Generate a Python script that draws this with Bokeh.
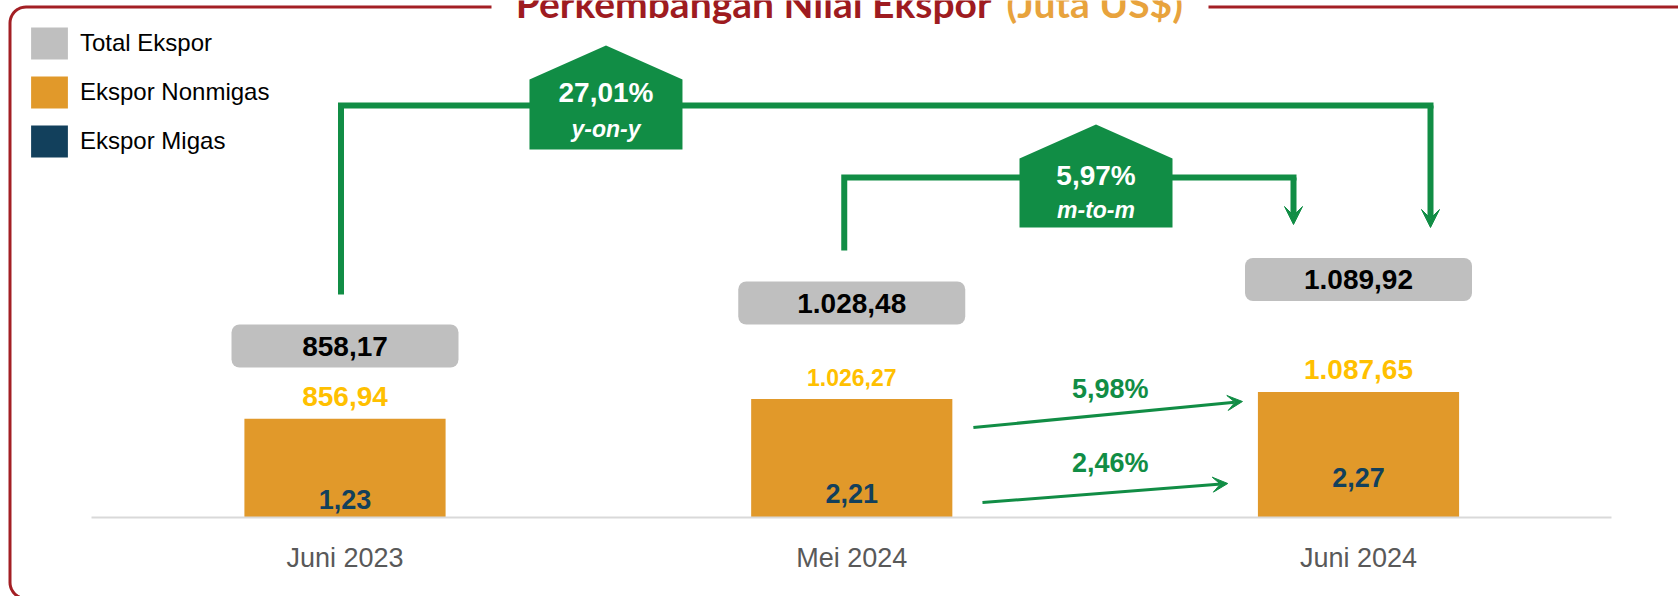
import numpy as np
from bokeh.plotting import figure
from bokeh.models import (Range1d, ColumnDataSource, FixedTicker, Arrow, VeeHead,
                          Legend, LegendItem)
from bokeh.core.properties import value
from bokeh.embed import file_html
from bokeh.resources import INLINE

# ---------------- data ----------------
categories = ["Juni 2023", "Mei 2024", "Juni 2024"]
total_ekspor = [858.17, 1028.48, 1089.92]
ekspor_nonmigas = [856.94, 1026.27, 1087.65]
ekspor_migas = [1.23, 2.21, 2.27]
growth_yoy = 27.01
growth_mtm = 5.97
growth_mtm_nonmigas = 5.98
growth_mtm_migas = 2.46
legend_labels = ["Total Ekspor", "Ekspor Nonmigas", "Ekspor Migas"]
title_main = "Perkembangan Nilai Ekspor"
title_unit = "(Juta US$)"
yoy_caption = "y-on-y"
mtm_caption = "m-to-m"

# ---------------- styling / layout ----------------
SANS = "Liberation Sans"
GREEN = "#118D45"
ORANGE = "#E1992A"
NAVY = "#12405C"
GRAY_BOX = "#BFBFBF"
GOLD = "#FFC000"
DARKRED = "#A31F24"
W, H = 1678, 596
PPU = 506.75          # px per category step
X0 = 344.5            # px of first category centre
BASE = 517.0          # px of the zero line
UPP = 8.681           # value units per px


def id_num(v):
    s = f"{v:,.2f}"
    return s.replace(",", "#").replace(".", ",").replace("#", ".")


def pct(v):
    return id_num(v) + "%"


idx = list(range(len(categories)))
src = ColumnDataSource(dict(
    x=idx,
    migas=ekspor_migas,
    top=[m + n for m, n in zip(ekspor_migas, ekspor_nonmigas)],
    total_txt=[id_num(v) for v in total_ekspor],
    nonmigas_txt=[id_num(v) for v in ekspor_nonmigas],
    migas_txt=[id_num(v) for v in ekspor_migas],
    box_y=[345.5, 302.5, 279.0],          # layout (px from top)
    nm_size=["28px", "23px", "28px"],     # label sizes as in the original
    mg_dy=[-18, -24, -40],                # label offsets (px)
))

p = figure(width=W, height=H, output_backend="svg", toolbar_location=None,
           x_range=Range1d(-X0 / PPU, (W - X0) / PPU),
           y_range=Range1d(-(H - BASE) * UPP, BASE * UPP),
           y_axis_location=None, min_border=0, outline_line_color=None,
           background_fill_color="white", border_fill_color="white")
p.extra_x_ranges = {"px": Range1d(0, W)}
p.extra_y_ranges = {"px": Range1d(H, 0)}
p.grid.visible = False

# x axis drawn on the baseline
ax = p.xaxis[0]
ax.fixed_location = 0
ax.bounds = (-0.5, 2.5)
ax.ticker = FixedTicker(ticks=idx)
ax.major_label_overrides = {i: c for i, c in zip(idx, categories)}
ax.major_tick_line_color = None
ax.minor_tick_line_color = None
ax.axis_line_color = "#D9D9D9"
ax.axis_line_width = 2
ax.major_label_text_font = SANS
ax.major_label_text_font_size = "27px"
ax.major_label_text_color = "#595959"
ax.major_label_standoff = 19

# ---------------- frame & title ----------------
r = 16.0
t1 = np.linspace(np.pi / 2, np.pi, 12)
t2 = np.linspace(np.pi, 1.5 * np.pi, 12)
LX, TY, BY = 9.5, 6.5, 598.0
fx = [491.0, LX + r] + list(LX + r + r * np.cos(t1)) + list(LX + r + r * np.cos(t2)) + [W]
fy = [TY, TY] + list(TY + r - r * np.sin(t1)) + list(BY - r - r * np.sin(t2)) + [BY]
p.line(fx, fy, x_range_name="px", y_range_name="px", line_color=DARKRED, line_width=3)
p.line([1208, W], [TY, TY], x_range_name="px", y_range_name="px",
       line_color=DARKRED, line_width=3)
p.text(x=[991], y=[2.5], text=[title_main], x_range_name="px", y_range_name="px",
       text_align="right", text_baseline="alphabetic", text_font=value("Lato"),
       text_font_style="bold", text_font_size="39px", text_color="#9E1B20")
p.text(x=[1006], y=[2.5], text=[title_unit], x_range_name="px", y_range_name="px",
       text_align="left", text_baseline="alphabetic", text_font=value("Lato"),
       text_font_style="bold", text_font_size="39px", text_color="#E8A33D")

# ---------------- bars ----------------
BW = 0.397
r_mig = p.vbar(x="x", bottom=0, top="migas", width=BW, fill_color=NAVY,
               line_color=None, source=src)
r_non = p.vbar(x="x", bottom="migas", top="top", width=BW, fill_color=ORANGE,
               line_color=None, source=src)

# total boxes
r_tot = p.rect(x="x", y="box_y", width=227, height=43, width_units="screen",
               height_units="screen", fill_color=GRAY_BOX, line_color=None,
               border_radius=8, y_range_name="px", source=src)
p.text(x="x", y="box_y", text="total_txt", y_range_name="px", source=src,
       text_align="center", text_baseline="middle", text_font=value(SANS),
       text_font_style="bold", text_font_size="28px", text_color="#000000")

# nonmigas labels above bars
p.text(x="x", y="top", text="nonmigas_txt", y_offset=-22, source=src,
       text_align="center", text_baseline="middle", text_font=value(SANS),
       text_font_style="bold", text_font_size="nm_size", text_color=GOLD)

# migas labels inside bars
p.text(x="x", y=0, text="migas_txt", y_offset="mg_dy", source=src,
       text_align="center", text_baseline="middle", text_font=value(SANS),
       text_font_style="bold", text_font_size="27px", text_color=NAVY)

# ---------------- connectors ----------------


def bracket(x0, x1, y_start, y_top, y_tip, lw, head):
    p.line([x0, x0, x1], [y_start, y_top, y_top], y_range_name="px",
           line_color=GREEN, line_width=lw, line_join="miter", line_cap="square")
    p.add_layout(Arrow(x_start=x1, y_start=y_top, x_end=x1, y_end=y_tip,
                       y_range_name="px", line_color=GREEN, line_width=lw,
                       end=VeeHead(size=head, fill_color=GREEN, line_color=GREEN,
                                   line_width=1)))


# year-on-year: Juni 2023 -> Juni 2024
bracket(0 - 4 / PPU, 2 + 72 / PPU, 291, 105, 227, 6, 18)
# month-to-month: Mei 2024 -> Juni 2024
bracket(1 - 7.5 / PPU, 2 - 65 / PPU, 247, 177, 224, 6, 18)


def badge(xc, y_peak, y_sh, y_bot, t1_, t2_, y1, y2):
    hw = 76.5 / PPU
    p.patch([xc - hw, xc - hw, xc, xc + hw, xc + hw],
            [y_bot, y_sh, y_peak, y_sh, y_bot], y_range_name="px",
            fill_color=GREEN, line_color=None)
    p.text(x=[xc], y=[y1], text=[t1_], y_range_name="px", text_align="center",
           text_baseline="middle", text_font=value(SANS), text_font_style="bold",
           text_font_size="28px", text_color="white")
    p.text(x=[xc], y=[y2], text=[t2_], y_range_name="px", text_align="center",
           text_baseline="middle", text_font=value(SANS),
           text_font_style="bold italic", text_font_size="23px", text_color="white")


badge(0.515, 45, 79, 149, pct(growth_yoy), yoy_caption, 92, 128)
badge(1.482, 124, 158, 227, pct(growth_mtm), mtm_caption, 175, 209)

# sloped arrows between Mei 2024 and Juni 2024
for (xs, ys, xe, ye, lab, ly) in [
        (1 + 0.240, 427, 2 - 0.229, 401, pct(growth_mtm_nonmigas), 388),
        (1 + 0.258, 502, 2 - 0.258, 483, pct(growth_mtm_migas), 462)]:
    p.add_layout(Arrow(x_start=xs, y_start=ys, x_end=xe, y_end=ye, y_range_name="px",
                       line_color=GREEN, line_width=3,
                       end=VeeHead(size=15, fill_color=GREEN, line_color=GREEN,
                                   line_width=1)))
    p.text(x=[1.51], y=[ly], text=[lab], y_range_name="px", text_align="center",
           text_baseline="middle", text_font=value(SANS), text_font_style="bold",
           text_font_size="27px", text_color=GREEN)

# ---------------- legend ----------------
legend = Legend(items=[LegendItem(label=legend_labels[0], renderers=[r_tot]),
                       LegendItem(label=legend_labels[1], renderers=[r_non]),
                       LegendItem(label=legend_labels[2], renderers=[r_mig])],
                location=(26, 435), glyph_width=46, glyph_height=40, spacing=9,
                label_standoff=8, padding=0, margin=0, border_line_color=None,
                background_fill_alpha=0, label_text_font=SANS,
                label_text_font_size="24px", label_text_color="#000000",
                label_height=40)
p.add_layout(legend)

open("out.html", "w").write(file_html(p, INLINE))
